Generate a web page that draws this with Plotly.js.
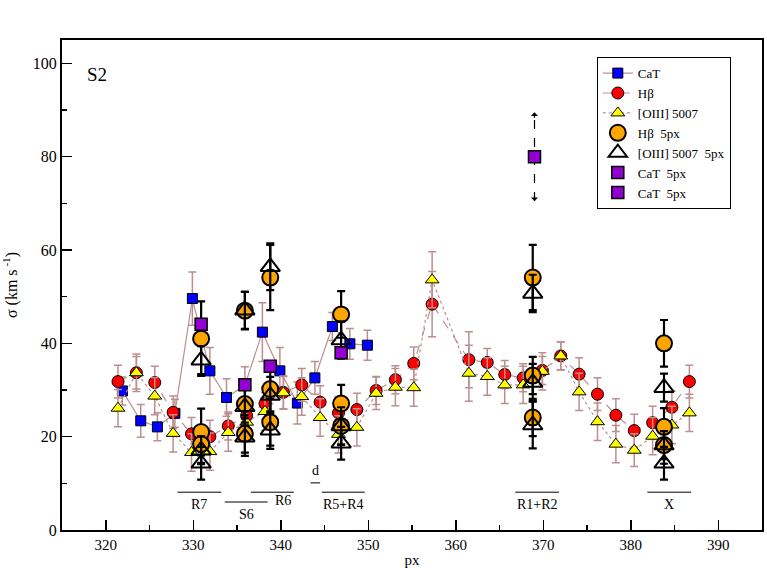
<!DOCTYPE html>
<html>
<head>
<meta charset="utf-8">
<script src="https://cdn.plot.ly/plotly-3.0.1.min.js"></script>
<style>
  html, body { margin: 0; padding: 0; background: #fff; }
  #chart { width: 767px; height: 568px; }
</style>
</head>
<body>
<div id="chart"></div>
<script>
// CaT, long slit, 2 px bins
var catPx  = [321.9, 324.0, 325.9, 327.9, 329.9, 331.9, 333.8, 335.9, 337.9, 339.9, 341.9, 343.9, 345.9, 347.9, 349.9];
var catSig = [29.8, 23.4, 22.1, 25.0, 49.6, 34.1, 28.4, 31.0, 42.4, 34.1, 27.2, 32.6, 43.6, 39.9, 39.6];
var catErr = [3.0, 3.5, 3.0, 3.0, 5.7, 5.0, 4.0, 4.0, 6.3, 5.0, 4.5, 3.5, 3.0, 3.3, 3.2];

// Hbeta and [OIII] 5007 share the same bins
var gasPx   = [321.4, 323.5, 325.6, 327.7, 329.8, 331.9, 334.0, 336.1, 338.2, 340.3, 342.4, 344.5, 346.6, 348.7, 350.9, 353.1,
               355.2, 357.3, 361.5, 363.6, 365.6, 367.7, 369.9, 372.0, 374.1, 376.2, 378.3, 380.4, 382.5, 384.7, 386.7];
var hbSig   = [31.8, 33.7, 31.6, 25.2, 20.6, 20.0, 22.3, 24.5, 27.1, 29.5, 31.1, 27.4, 25.1, 25.8, 29.9, 32.2,
               35.7, 48.4, 36.5, 35.9, 33.3, 32.6, 34.2, 37.3, 33.4, 29.1, 24.6, 21.3, 23.0, 26.3, 31.8];
var hbErr   = [3.5, 3.5, 3.5, 3.5, 3.5, 3.5, 3.0, 3.5, 3.5, 3.5, 3.5, 3.5, 3.5, 3.5, 3.0, 3.0,
               3.5, 7.0, 6.0, 3.0, 3.0, 3.0, 3.0, 3.0, 3.5, 3.5, 3.5, 3.5, 3.5, 3.5, 3.5];
var oiiiSig = [26.1, 33.7, 28.7, 20.7, 16.6, 16.8, 20.9, 23.1, 25.4, 29.4, 28.6, 24.1, 20.5, 22.0, 29.3, 30.6,
               30.5, 53.6, 33.6, 32.9, 31.1, 31.1, 34.0, 37.3, 29.6, 23.2, 18.4, 17.1, 20.1, 22.5, 25.1];
var oiiiErr = [4.0, 4.0, 4.0, 4.0, 4.0, 4.0, 4.0, 4.0, 4.0, 3.5, 4.0, 4.0, 4.0, 4.0, 3.5, 4.0,
               4.0, 6.0, 6.0, 4.0, 4.0, 4.0, 4.0, 3.0, 4.0, 4.0, 4.0, 3.5, 4.0, 4.0, 4.0];

// 5 px apertures
var apPx     = [330.9, 330.9, 330.9, 335.9, 335.9, 335.9, 338.8, 338.8, 338.8, 346.9, 346.9, 346.9, 368.8, 368.8, 368.8, 383.8, 383.8, 383.8];
var hb5Sig   = [41.0, 21.0, 18.4, 47.0, 27.0, 20.6, 54.1, 30.2, 23.1, 46.2, 27.1, 22.3, 54.1, 33.1, 24.1, 40.0, 22.1, 18.2];
var hb5Err   = [8.0, 5.0, 4.0, 4.0, 4.0, 4.0, 7.0, 5.0, 5.0, 5.0, 4.0, 4.0, 7.0, 4.0, 4.0, 5.0, 4.0, 4.0];
var oiii5Sig = [36.4, 17.1, 14.3, 47.1, 26.4, 19.9, 56.4, 28.8, 21.4, 40.7, 22.3, 18.6, 50.7, 31.6, 22.5, 30.5, 18.2, 14.3];
var oiii5Err = [3.0, 3.0, 3.5, 4.0, 4.0, 4.0, 5.0, 4.0, 4.0, 4.0, 4.0, 3.5, 4.0, 4.0, 5.0, 3.0, 3.0, 3.5];

var cat5Px  = [330.9, 335.9, 338.8, 346.9];
var cat5Sig = [44.1, 31.1, 35.1, 38.0];

// uncertain CaT 5px point (dashed arrows)
var catLimPx  = [369.0];
var catLimSig = [80.0];
var catLimErr = [9.5];

// top axis: distance in arcsec
var distPx     = [320.4, 338.0, 344.0, 350.0, 367.4, 382.0];
var distLabels = ['10.0', '6.0', '5.6', '6.0', '10.0', '15.0'];

// regions marked along the bottom
var regionNames = ['R7', 'S6', 'R6', 'd', 'R5+R4', 'R1+R2', 'X'];
var regionStart = [328.2, 333.6, 336.6, 343.4, 344.7, 366.8, 381.9];
var regionEnd   = [333.2, 338.5, 341.5, 344.5, 349.6, 371.8, 386.9];
var regionLevel = [8.1, 6.0, 8.1, 10.1, 8.1, 8.1, 8.1];

var rosy = '#bc8f8f';
var serif = "'Liberation Serif', 'Times New Roman', Times, serif";

var traces = [
  {
    x: catPx, y: catSig, name: 'CaT', type: 'scatter', mode: 'lines+markers',
    line: {color: rosy, width: 1.2},
    marker: {symbol: 'square', size: 10, color: '#0000ff', line: {color: '#000', width: 1}},
    error_y: {type: 'data', array: catErr, color: rosy, thickness: 1.5, width: 4}
  },
  {
    x: gasPx, y: hbSig, name: 'H\u03b2', type: 'scatter', mode: 'lines+markers',
    line: {color: rosy, width: 1.2, dash: 'dash'},
    marker: {symbol: 'circle', size: 12, color: '#ff0000', line: {color: '#000', width: 1}},
    error_y: {type: 'data', array: hbErr, color: rosy, thickness: 1.5, width: 4}
  },
  {
    x: gasPx, y: oiiiSig, name: '[OIII] 5007', type: 'scatter', mode: 'lines+markers',
    line: {color: rosy, width: 1.2, dash: 'dot'},
    marker: {symbol: 'triangle-up', size: 12, color: '#ffff00', line: {color: '#000', width: 1}},
    error_y: {type: 'data', array: oiiiErr, color: rosy, thickness: 1.5, width: 4}
  },
  {
    x: apPx, y: hb5Sig, name: 'H\u03b2  5px', type: 'scatter', mode: 'markers',
    marker: {symbol: 'circle', size: 16, color: '#ffa500', line: {color: '#000', width: 2}},
    error_y: {type: 'data', array: hb5Err, color: '#000', thickness: 2.2, width: 4}
  },
  {
    x: apPx, y: oiii5Sig, name: '[OIII] 5007  5px', type: 'scatter', mode: 'markers',
    marker: {symbol: 'triangle-up-open', size: 17, color: '#000', line: {color: '#000', width: 2}},
    error_y: {type: 'data', array: oiii5Err, color: '#000', thickness: 2.2, width: 4}
  },
  {
    x: cat5Px, y: cat5Sig, name: 'CaT  5px', type: 'scatter', mode: 'markers',
    marker: {symbol: 'square', size: 12, color: '#9400d3', line: {color: '#000', width: 1.5}}
  },
  {
    x: [catLimPx[0], catLimPx[0]], y: [catLimSig[0] - catLimErr[0], catLimSig[0] + catLimErr[0]],
    type: 'scatter', mode: 'lines', showlegend: false, hoverinfo: 'skip',
    line: {color: '#000', width: 1.2, dash: 'dash'}
  },
  {
    x: catLimPx, y: catLimSig, name: 'CaT  5px', type: 'scatter', mode: 'markers',
    marker: {symbol: 'square', size: 12, color: '#9400d3', line: {color: '#000', width: 1.5}}
  }
];

var shapes = [];
var annotations = [
  {xref: 'paper', yref: 'paper', x: 0.05, y: 0.929, text: 'S2', showarrow: false,
   font: {family: serif, size: 19, color: '#000'}, xanchor: 'center', yanchor: 'middle'},
  {x: catLimPx[0], y: catLimSig[0] + catLimErr[0], ax: 0, ay: 7, text: '', showarrow: true,
   arrowhead: 1, arrowsize: 1, arrowwidth: 1.2, arrowcolor: '#000'},
  {x: catLimPx[0], y: catLimSig[0] - catLimErr[0], ax: 0, ay: -7, text: '', showarrow: true,
   arrowhead: 1, arrowsize: 1, arrowwidth: 1.2, arrowcolor: '#000'}
];

regionNames.forEach(function (nm, i) {
  shapes.push({type: 'line', xref: 'x', yref: 'y', x0: regionStart[i], x1: regionEnd[i],
               y0: regionLevel[i], y1: regionLevel[i], line: {color: '#000', width: 1}});
  var shift = nm === 'd' ? 12 : (nm === 'R6' ? -8 : -12);
  annotations.push({
    x: (regionStart[i] + regionEnd[i]) / 2 + (nm === 'R6' ? 1.2 : 0),
    y: regionLevel[i], yshift: shift,
    text: nm, showarrow: false,
    font: {family: serif, size: 14, color: '#000'}
  });
});

var layout = {
  width: 767, height: 568,
  margin: {l: 62, r: 5, t: 40, b: 38},
  paper_bgcolor: '#fff', plot_bgcolor: '#fff',
  font: {family: serif, size: 15, color: '#000'},
  showlegend: true,
  legend: {
    x: 0.764, y: 0.965, xanchor: 'left', yanchor: 'top',
    bgcolor: '#fff', bordercolor: '#000', borderwidth: 1,
    font: {family: serif, size: 13}, tracegroupgap: 0
  },
  xaxis: {
    range: [315, 395], tickvals: [320, 330, 340, 350, 360, 370, 380, 390],
    ticks: 'inside', ticklen: 10, tickwidth: 1.5, tickcolor: '#000',
    minor: {tickvals: [325, 335, 345, 355, 365, 375, 385], ticks: 'inside', ticklen: 5, tickwidth: 1.5, tickcolor: '#000'},
    showline: true, mirror: true, linecolor: '#000', linewidth: 2,
    showgrid: false, zeroline: false,
    tickfont: {family: serif, size: 15},
    title: {text: 'px', font: {family: serif, size: 15}, standoff: 2}
  },
  xaxis2: {
    overlaying: 'x', side: 'top', anchor: 'y',
    range: [315, 395], tickvals: distPx, ticktext: distLabels,
    ticks: 'inside', ticklen: 10, tickwidth: 1.5, tickcolor: '#000',
    showline: false, showgrid: false, zeroline: false,
    tickfont: {family: serif, size: 15},
    title: {text: 'distance (")', font: {family: serif, size: 15}, standoff: 2}
  },
  yaxis: {
    range: [0, 105], tickvals: [0, 20, 40, 60, 80, 100],
    ticks: 'inside', ticklen: 10, tickwidth: 1.5, tickcolor: '#000',
    minor: {tickvals: [10, 30, 50, 70, 90], ticks: 'inside', ticklen: 5, tickwidth: 1.5, tickcolor: '#000'},
    showline: true, mirror: true, linecolor: '#000', linewidth: 2,
    showgrid: false, zeroline: false,
    tickfont: {family: serif, size: 16},
    title: {text: '\u03c3 (km s<sup> -1</sup>)', font: {family: serif, size: 16}, standoff: 12}
  },
  shapes: shapes,
  annotations: annotations
};

Plotly.newPlot('chart', traces, layout, {displayModeBar: false, staticPlot: true});
</script>
</body>
</html>
